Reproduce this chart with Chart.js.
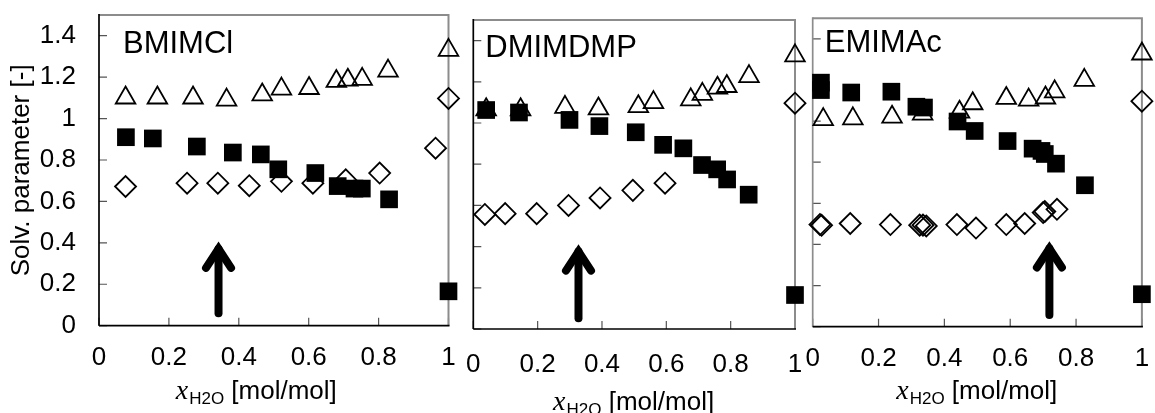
<!DOCTYPE html>
<html>
<head>
<meta charset="utf-8">
<script src="https://cdn.jsdelivr.net/npm/chart.js@4.4.1/dist/chart.umd.min.js"></script>
<style>
  body { margin: 0; background: #fff; }
  #wrap { position: relative; width: 1155px; height: 413px; }
  #wrap canvas { position: absolute; left: 0; top: 0; }
</style>
</head>
<body>
<div id="wrap">
  <canvas id="bmim" width="1155" height="413"></canvas>
  <canvas id="dmim" width="1155" height="413"></canvas>
  <canvas id="emim" width="1155" height="413"></canvas>
</div>
<script>
// tick values shared by all three panels
var xTicks = [0, 0.2, 0.4, 0.6, 0.8, 1];
var yTicks = [0, 0.2, 0.4, 0.6, 0.8, 1, 1.2, 1.4];

// BMIMCl
var bmimSqX = [0.077, 0.154, 0.28, 0.383, 0.463, 0.513, 0.619, 0.683, 0.731, 0.752, 0.83, 1.0];
var bmimSqY = [0.91, 0.904, 0.865, 0.836, 0.827, 0.755, 0.737, 0.674, 0.662, 0.662, 0.61, 0.166];
var bmimTrX = [0.076, 0.167, 0.269, 0.365, 0.467, 0.522, 0.601, 0.679, 0.712, 0.753, 0.827, 1.0];
var bmimTrY = [1.10, 1.10, 1.10, 1.09, 1.115, 1.143, 1.146, 1.18, 1.186, 1.19, 1.23, 1.33];
var bmimDmX = [0.076, 0.252, 0.34, 0.43, 0.522, 0.612, 0.706, 0.803, 0.963, 1.0];
var bmimDmY = [0.672, 0.688, 0.688, 0.676, 0.697, 0.688, 0.704, 0.737, 0.857, 1.097];
var bmimArrow = [0.342, 0.06, 0.395];

// DMIMDMP
var dmimSqX = [0.04, 0.142, 0.299, 0.392, 0.505, 0.59, 0.653, 0.711, 0.758, 0.789, 0.856, 1.0];
var dmimSqY = [1.063, 1.051, 1.015, 0.985, 0.955, 0.894, 0.877, 0.796, 0.775, 0.726, 0.652, 0.165];
var dmimTrX = [0.04, 0.147, 0.285, 0.389, 0.513, 0.56, 0.676, 0.712, 0.759, 0.788, 0.857, 1.0];
var dmimTrY = [1.065, 1.065, 1.077, 1.069, 1.08, 1.10, 1.113, 1.14, 1.17, 1.178, 1.226, 1.327];
var dmimDmX = [0.036, 0.099, 0.197, 0.296, 0.394, 0.496, 0.596, 1.0];
var dmimDmY = [0.556, 0.56, 0.56, 0.60, 0.636, 0.673, 0.708, 1.096];
var dmimArrow = [0.327, 0.052, 0.40];

// EMIMAc
var emimSqX = [0.025, 0.025, 0.117, 0.239, 0.315, 0.338, 0.44, 0.492, 0.592, 0.668, 0.695, 0.705, 0.739, 0.827, 1.0];
var emimSqY = [1.187, 1.151, 1.139, 1.143, 1.07, 1.066, 0.998, 0.952, 0.903, 0.866, 0.855, 0.84, 0.793, 0.688, 0.158];
var emimTrX = [0.032, 0.122, 0.241, 0.334, 0.446, 0.486, 0.588, 0.656, 0.707, 0.735, 0.825, 1.0];
var emimTrY = [1.008, 1.012, 1.02, 1.035, 1.044, 1.085, 1.111, 1.103, 1.113, 1.143, 1.199, 1.327];
var emimDmX = [0.022, 0.027, 0.114, 0.236, 0.325, 0.335, 0.345, 0.438, 0.496, 0.588, 0.644, 0.700, 0.705, 0.742, 1.0];
var emimDmY = [0.497, 0.493, 0.502, 0.497, 0.494, 0.494, 0.49, 0.497, 0.48, 0.497, 0.502, 0.555, 0.56, 0.571, 1.097];
var emimArrow = [0.719, 0.057, 0.405];

var SANS = '"Liberation Sans", Arial, sans-serif';

function pts(xs, ys) {
    return xs.map(function(x, i) { return {x: x, y: ys[i]}; });
}

// frame, inward ticks, panel name, arrow and x-axis title
var panelDecor = {
    id: 'panelDecor',
    beforeDatasetsDraw: function(chart) {
        var ctx = chart.ctx, a = chart.chartArea;
        var d = chart.options.plugins.panelDecor;
        var xs = chart.scales.x, ys = chart.scales.y;
        ctx.save();

        ctx.strokeStyle = '#555';
        ctx.lineWidth = 1.2;
        ctx.beginPath();
        xTicks.forEach(function(v) {
            var px = xs.getPixelForValue(v);
            ctx.moveTo(px, a.bottom);
            ctx.lineTo(px, a.bottom - 8);
        });
        yTicks.forEach(function(v) {
            var py = ys.getPixelForValue(v);
            ctx.moveTo(a.left, py);
            ctx.lineTo(a.left + 8, py);
        });
        ctx.stroke();

        ctx.strokeStyle = '#8c8c8c';
        ctx.lineWidth = 2;
        ctx.beginPath();
        ctx.moveTo(a.left, a.top);
        ctx.lineTo(a.right, a.top);
        ctx.lineTo(a.right, a.bottom);
        ctx.stroke();

        ctx.strokeStyle = d.leftColor;
        ctx.lineWidth = 1.7;
        ctx.beginPath();
        ctx.moveTo(a.left, a.top - 1);
        ctx.lineTo(a.left, a.bottom);
        ctx.stroke();

        ctx.strokeStyle = '#000';
        ctx.beginPath();
        ctx.moveTo(a.left, a.bottom);
        ctx.lineTo(a.right + 1, a.bottom);
        ctx.stroke();

        // panel name
        ctx.fillStyle = '#000';
        ctx.font = '31px ' + SANS;
        ctx.textBaseline = 'alphabetic';
        ctx.textAlign = 'left';
        ctx.fillText(d.name, a.left + d.nameDx, a.top + d.nameDy);

        // arrow
        var ax = xs.getPixelForValue(d.arrow[0]);
        var yTail = ys.getPixelForValue(d.arrow[1]);
        var yTip = ys.getPixelForValue(d.arrow[2]);
        ctx.lineWidth = 8;
        ctx.lineCap = 'round';
        ctx.lineJoin = 'miter';
        ctx.beginPath();
        ctx.moveTo(ax, yTail);
        ctx.lineTo(ax, yTip + 5);
        ctx.stroke();
        ctx.beginPath();
        ctx.moveTo(ax - 12.5, yTip + 24);
        ctx.lineTo(ax, yTip + 5);
        ctx.lineTo(ax + 12.5, yTip + 24);
        ctx.stroke();

        // x axis title: x_H2O [mol/mol]
        var fx = 'italic 28px "Liberation Serif", "Times New Roman", serif';
        var fs = '17px ' + SANS;
        var fm = '26px ' + SANS;
        ctx.font = fx; var w1 = ctx.measureText('x').width;
        ctx.font = fs; var w2 = ctx.measureText('H2O').width;
        ctx.font = fm; var w3 = ctx.measureText(' [mol/mol]').width;
        var x0 = (a.left + a.right) / 2 + d.titleDx - (w1 + w2 + w3) / 2;
        var by = d.titleY;
        ctx.font = fx; ctx.fillText('x', x0, by);
        ctx.font = fs; ctx.fillText('H2O', x0 + w1 + 1, by + 5);
        ctx.font = fm; ctx.fillText(' [mol/mol]', x0 + w1 + w2 + 1, by);

        ctx.restore();
    }
};

function makePanel(id, p) {
    return new Chart(document.getElementById(id), {
        type: 'scatter',
        data: {
            datasets: [
                {data: pts(p.sqX, p.sqY), pointStyle: 'rect', pointRadius: 12.5,
                 backgroundColor: '#000', borderColor: '#000', borderWidth: 0, order: 0, clip: false},
                {data: pts(p.dmX, p.dmY), pointStyle: 'rectRot', pointRadius: 10.5,
                 backgroundColor: 'rgba(0,0,0,0)', borderColor: '#000', borderWidth: 1.8, order: 1, clip: false},
                {data: pts(p.trX, p.trY), pointStyle: 'triangle', pointRadius: 11.3,
                 backgroundColor: 'rgba(0,0,0,0)', borderColor: '#000', borderWidth: 1.8, order: 2, clip: false}
            ]
        },
        options: {
            responsive: false,
            animation: false,
            events: [],
            layout: {padding: {left: p.left, right: 1155 - p.right, top: p.top, bottom: 0}},
            plugins: {
                legend: {display: false},
                tooltip: {enabled: false},
                panelDecor: {name: p.name, nameDx: p.nameDx, nameDy: p.nameDy, arrow: p.arrow,
                             titleDx: p.titleDx, titleY: p.titleY, leftColor: p.leftColor}
            },
            scales: {
                x: {
                    type: 'linear', position: 'bottom', min: 0, max: 1,
                    grid: {display: false, drawTicks: false},
                    border: {display: false},
                    afterBuildTicks: function(s) { s.ticks = xTicks.map(function(v) { return {value: v}; }); },
                    afterFit: function(s) {
                        s.height = 413 - p.bottom;
                        s.paddingLeft = 0; s.paddingRight = 0;
                    },
                    ticks: {
                        color: '#000', padding: p.xPad, maxRotation: 0, autoSkip: false,
                        font: {family: SANS, size: 26},
                        callback: function(v) { return String(v); }
                    }
                },
                y: {
                    type: 'linear', position: 'left', min: 0, max: 1.5,
                    grid: {display: false, drawTicks: false},
                    border: {display: false},
                    afterBuildTicks: function(s) { s.ticks = yTicks.map(function(v) { return {value: v}; }); },
                    afterFit: function(s) {
                        s.width = p.yWidth;
                        s.paddingTop = 0; s.paddingBottom = 0;
                    },
                    title: {
                        display: p.yLabels, text: 'Solv. parameter [-]', color: '#000',
                        font: {family: SANS, size: 26, lineHeight: 1.2}, padding: {top: 6, bottom: 0}
                    },
                    ticks: {
                        display: p.yLabels, color: '#000', padding: 23,
                        font: {family: SANS, size: 26},
                        callback: function(v) { return String(v); }
                    }
                }
            }
        },
        plugins: [panelDecor]
    });
}

makePanel('bmim', {
    name: 'BMIMCl', sqX: bmimSqX, sqY: bmimSqY, trX: bmimTrX, trY: bmimTrY, dmX: bmimDmX, dmY: bmimDmY,
    arrow: bmimArrow, left: 0, yWidth: 99, right: 448.5, top: 15, bottom: 325.7,
    yLabels: true, xPad: 17, nameDx: 24, nameDy: 38, titleDx: -18, titleY: 399, leftColor: '#000'
});
makePanel('dmim', {
    name: 'DMIMDMP', sqX: dmimSqX, sqY: dmimSqY, trX: dmimTrX, trY: dmimTrY, dmX: dmimDmX, dmY: dmimDmY,
    arrow: dmimArrow, left: 473.3, yWidth: 0, right: 795, top: 20, bottom: 329,
    yLabels: false, xPad: 20, nameDx: 12, nameDy: 37, titleDx: -1, titleY: 410, leftColor: '#000'
});
makePanel('emim', {
    name: 'EMIMAc', sqX: emimSqX, sqY: emimSqY, trX: emimTrX, trY: emimTrY, dmX: emimDmX, dmY: emimDmY,
    arrow: emimArrow, left: 812.7, yWidth: 0, right: 1146.7, top: 18.3, bottom: 326.7,
    yLabels: false, xPad: 17, nameDx: 12, nameDy: 33.5, titleDx: -1, titleY: 399, leftColor: '#8c8c8c'
});
</script>
</body>
</html>
